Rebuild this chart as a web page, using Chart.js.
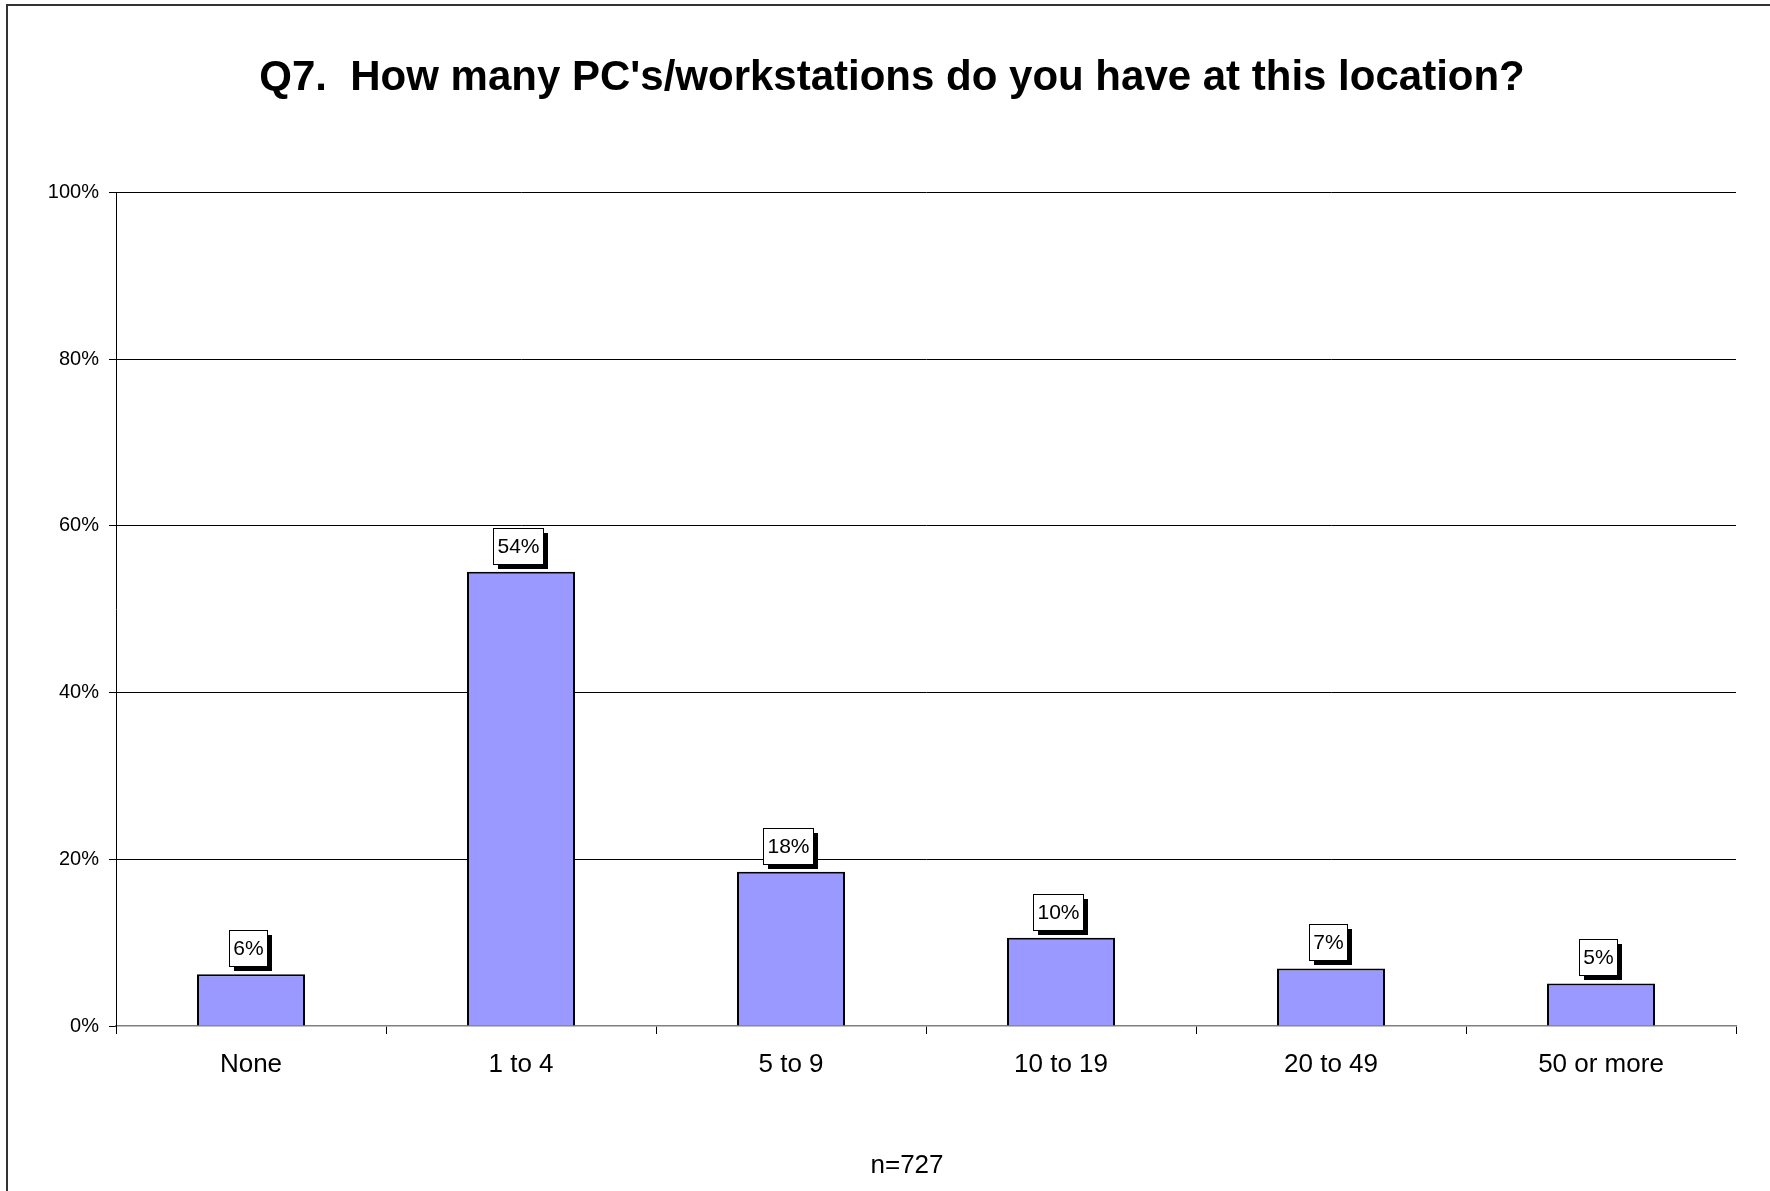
<!DOCTYPE html>
<html>
<head>
<meta charset="utf-8">
<script src="https://cdn.jsdelivr.net/npm/chart.js@4/dist/chart.umd.min.js"></script>
<style>
html, body { margin: 0; padding: 0; background: #fff; }
#wrap { width: 1770px; height: 1191px; position: relative; }
</style>
</head>
<body>
<div id="wrap"><canvas id="myChart"></canvas></div>
<script>
// data
var categories = ["None", "1 to 4", "5 to 9", "10 to 19", "20 to 49", "50 or more"];
var percents = [6.2, 54.5, 18.5, 10.6, 6.9, 5.1];
var valueLabels = ["6%", "54%", "18%", "10%", "7%", "5%"];
var yTicks = [0, 20, 40, 60, 80, 100];
var chartTitle = "Q7.  How many PC's/workstations do you have at this location?";
var note = "n=727";

var FONT = '"Liberation Sans", Arial, Helvetica, sans-serif';
Chart.defaults.font.family = FONT;
Chart.defaults.color = "#000";

// white boxes with black drop shadow above each bar
var labelBoxes = {
    id: "labelBoxes",
    afterDatasetsDraw: function(chart) {
        var ctx = chart.ctx;
        var meta = chart.getDatasetMeta(0);
        ctx.save();
        ctx.font = "21px " + FONT;
        meta.data.forEach(function(bar, i) {
            var txt = valueLabels[i];
            var w = Math.round(ctx.measureText(txt).width) + 8;
            var h = 36;
            var left = Math.round(bar.x - 3 - w / 2);
            var top = Math.round(bar.y - 8 - h);
            ctx.fillStyle = "#000";
            ctx.fillRect(left + 5, top + 5, w, h);
            ctx.fillStyle = "#fff";
            ctx.fillRect(left, top, w, h);
            ctx.strokeStyle = "#000";
            ctx.lineWidth = 1;
            ctx.strokeRect(left + 0.5, top + 0.5, w, h);
            ctx.fillStyle = "#000";
            ctx.textAlign = "center";
            ctx.textBaseline = "middle";
            ctx.fillText(txt, left + w / 2 + 0.5, top + h / 2 + 1);
        });
        ctx.restore();
    }
};

// outer frame and the sample size note
var frameAndNote = {
    id: "frameAndNote",
    afterDraw: function(chart) {
        var ctx = chart.ctx;
        var area = chart.chartArea;
        ctx.save();
        ctx.strokeStyle = "#333";
        ctx.lineWidth = 2;
        ctx.beginPath();
        ctx.moveTo(7, chart.height + 2);
        ctx.lineTo(7, 5);
        ctx.lineTo(chart.width + 2, 5);
        ctx.stroke();
        ctx.fillStyle = "#000";
        ctx.font = "26px " + FONT;
        ctx.textAlign = "center";
        ctx.textBaseline = "middle";
        ctx.fillText(note, (area.left + area.right) / 2 - 19, 1166);
        ctx.restore();
    }
};

const config = {
    type: "bar",
    data: {
        labels: categories,
        datasets: [{
            data: percents,
            backgroundColor: "#9999FF",
            borderColor: "#000",
            borderWidth: 2,
            barPercentage: 0.4,
            categoryPercentage: 1
        }]
    },
    options: {
        responsive: true,
        maintainAspectRatio: false,
        animation: false,
        layout: { padding: { left: 48, right: 34, top: 0, bottom: 0 } },
        plugins: {
            legend: { display: false },
            tooltip: { enabled: false },
            title: {
                display: true,
                text: chartTitle,
                font: { size: 42, weight: "bold", family: FONT },
                color: "#000",
                padding: { top: 53, bottom: 89 }
            }
        },
        scales: {
            x: {
                grid: {
                    offset: true,
                    drawOnChartArea: false,
                    drawTicks: true,
                    tickLength: 8,
                    color: "#000"
                },
                border: { color: "#808080", width: 1.5 },
                ticks: { font: { size: 26 }, padding: 15, color: "#000" },
                afterFit: function(axis) { axis.height = 165; }
            },
            y: {
                min: 0,
                max: 100,
                afterBuildTicks: function(axis) {
                    axis.ticks = yTicks.map(function(v) { return { value: v }; });
                },
                grid: {
                    color: function(c) { return c.tick && c.tick.value === 0 ? "rgba(0,0,0,0)" : "#000"; },
                    tickColor: "#000",
                    tickLength: 7,
                    lineWidth: 1
                },
                border: { color: "#000", width: 1 },
                ticks: {
                    font: { size: 20 },
                    padding: 10,
                    color: "#000",
                    callback: function(v) { return v + "%"; }
                },
                afterFit: function(axis) { axis.width = 68; }
            }
        }
    },
    plugins: [labelBoxes, frameAndNote]
};

var myChart = new Chart(document.getElementById("myChart"), config);
</script>
</body>
</html>
